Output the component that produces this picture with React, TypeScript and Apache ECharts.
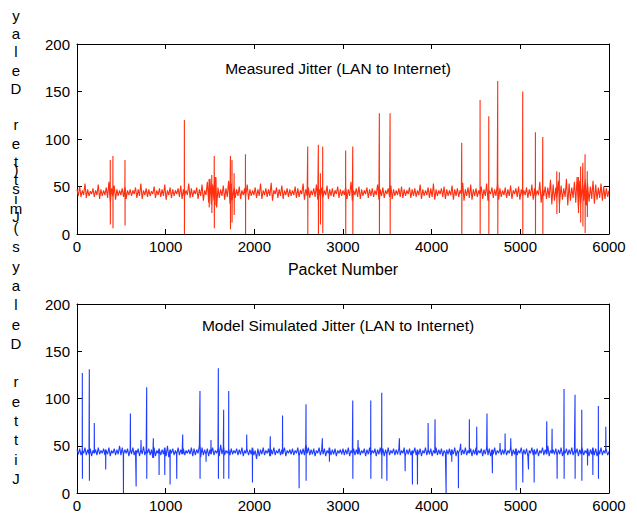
import React, { useEffect, useRef } from "react";
import * as echarts from "echarts";

// ---- data ----
const NOISE_STEP = 15; // packets between consecutive noise samples
const xTickValues = [0, 1000, 2000, 3000, 4000, 5000, 6000];
const yTickValues = [0, 50, 100, 150, 200];

// measured jitter, background noise (one value every 15 packets)
const redNoise = [
  47, 40, 50, 39, 46, 41, 53, 38, 47, 40, 45, 42, 48, 39, 46, 41, 52, 37, 47, 40,
  46, 41, 49, 38, 55, 34, 48, 39, 51, 36, 47, 40, 46, 41, 48, 39, 50, 37, 46, 41,
  47, 40, 46, 42, 49, 38, 47, 40, 53, 37, 46, 41, 48, 39, 47, 40, 45, 42, 50, 38,
  46, 41, 48, 39, 47, 40, 52, 36, 46, 41, 49, 38, 47, 40, 46, 42, 48, 39, 51, 37,
  47, 40, 46, 41, 53, 38, 48, 39, 46, 42, 49, 37, 47, 40, 52, 35, 46, 41, 55, 33,
  58, 31, 52, 35, 60, 28, 49, 38, 47, 40, 51, 36, 48, 39, 56, 32, 53, 35, 49, 38,
  47, 40, 50, 37, 46, 41, 48, 39, 52, 36, 47, 40, 46, 41, 49, 38, 47, 40, 53, 37,
  46, 41, 48, 39, 47, 40, 54, 35, 46, 42, 49, 38, 47, 40, 51, 37, 46, 41, 48, 39,
  47, 40, 46, 41, 50, 38, 48, 39, 46, 42, 53, 36, 47, 40, 49, 38, 46, 41, 48, 39,
  52, 36, 47, 40, 49, 38, 46, 41, 51, 37, 47, 40, 48, 39, 46, 42, 50, 38, 47, 40,
  46, 41, 49, 37, 47, 40, 55, 35, 46, 41, 48, 39, 50, 37, 47, 40, 46, 42, 49, 38,
  47, 40, 48, 39, 46, 41, 52, 36, 47, 40, 49, 38, 46, 42, 48, 39, 51, 37, 47, 40,
  46, 41, 48, 39, 50, 38, 47, 40, 46, 42, 49, 38, 47, 40, 48, 39, 46, 41, 52, 37,
  47, 40, 46, 41, 49, 38, 48, 39, 53, 36, 47, 40, 46, 42, 48, 39, 50, 37, 47, 40,
  46, 41, 51, 36, 47, 40, 48, 39, 46, 42, 54, 35, 47, 40, 49, 38, 52, 36, 47, 40,
  48, 39, 46, 41, 50, 37, 47, 40, 53, 35, 46, 42, 49, 38, 47, 40, 52, 36, 48, 39,
  46, 41, 49, 38, 47, 40, 51, 37, 46, 42, 48, 39, 50, 36, 47, 40, 46, 41, 49, 38,
  47, 40, 52, 36, 48, 39, 46, 41, 55, 33, 47, 40, 50, 37, 49, 38, 57, 31, 52, 35,
  49, 38, 56, 32, 51, 36, 48, 39, 58, 30, 53, 35, 49, 38, 55, 33, 60, 27, 56, 32,
  52, 35, 58, 30, 54, 34, 50, 37, 56, 32, 52, 36, 49, 38, 53, 35, 50, 37, 48, 39,
  46,
];

// model simulated jitter, background noise (one value every 15 packets)
const blueNoise = [
  46, 41, 47, 40, 45, 42, 48, 40, 46, 41, 47, 39, 45, 42, 46, 40, 48, 41, 45, 42,
  47, 40, 46, 41, 48, 39, 45, 42, 47, 40, 46, 41, 50, 40, 48, 41, 46, 42, 47, 39,
  46, 41, 48, 40, 45, 42, 47, 39, 46, 41, 49, 40, 45, 42, 47, 40, 46, 37, 48, 39,
  45, 42, 47, 40, 46, 41, 48, 39, 50, 38, 46, 42, 47, 40, 45, 41, 48, 40, 46, 41,
  47, 40, 45, 42, 46, 41, 48, 39, 47, 40, 46, 42, 50, 38, 48, 40, 46, 41, 47, 39,
  46, 41, 48, 40, 45, 42, 47, 39, 51, 41, 48, 40, 45, 42, 46, 40, 47, 41, 45, 42,
  47, 40, 46, 41, 48, 39, 45, 42, 47, 40, 46, 41, 48, 40, 45, 36, 47, 39, 46, 41,
  48, 40, 45, 42, 47, 39, 46, 41, 48, 40, 45, 42, 47, 40, 46, 41, 48, 39, 45, 42,
  46, 41, 47, 40, 45, 42, 48, 39, 46, 41, 47, 40, 51, 42, 48, 40, 46, 41, 47, 39,
  45, 42, 48, 40, 46, 41, 47, 39, 45, 42, 48, 40, 46, 41, 47, 39, 45, 42, 46, 41,
  47, 40, 46, 41, 48, 39, 45, 42, 47, 40, 46, 41, 48, 40, 45, 42, 47, 39, 46, 41,
  48, 40, 45, 42, 47, 39, 46, 41, 48, 40, 47, 39, 46, 41, 48, 40, 45, 42, 47, 40,
  46, 41, 47, 40, 45, 42, 48, 39, 46, 41, 47, 40, 45, 42, 48, 40, 46, 41, 47, 39,
  45, 42, 48, 40, 46, 41, 47, 39, 45, 42, 48, 40, 46, 41, 47, 39, 45, 42, 46, 41,
  47, 40, 46, 41, 48, 39, 45, 42, 47, 40, 46, 41, 48, 40, 45, 42, 47, 39, 46, 41,
  48, 40, 45, 42, 47, 39, 46, 41, 48, 40, 47, 39, 46, 41, 48, 40, 45, 42, 47, 40,
  46, 41, 47, 40, 45, 42, 48, 39, 46, 41, 47, 40, 45, 42, 48, 40, 46, 41, 47, 39,
  45, 42, 48, 40, 46, 41, 47, 39, 45, 42, 48, 40, 46, 41, 50, 39, 45, 42, 46, 41,
  47, 40, 46, 41, 48, 39, 45, 42, 47, 40, 46, 41, 48, 40, 45, 42, 47, 39, 46, 41,
  48, 40, 45, 42, 47, 39, 46, 41, 48, 40, 47, 39, 46, 41, 48, 40, 45, 42, 47, 40,
  44,
];

// spikes: packet number, peak value (null = none), dip value (null = none)
const redSpikePackets = [375, 405, 541, 1211, 1490, 1520, 1548, 1565, 1730, 1748, 1772, 1900, 2602, 2722, 2745, 2771, 3030, 3110, 3410, 3531, 4339, 4546, 4644, 4745, 5027, 5170, 5253, 5411, 5440, 5655, 5680, 5705, 5730, 5755];
const redSpikeHighs = [78, 82, 78, 120, 58, 62, 82, 56, 82, 78, 64, 84, 92, 94, 64, 92, 88, 92, 127, 127, 96, 141, 124, 161, 150, 107, 102, 66, 65, 60, 71, 75, 84, 66];
const redSpikeLows = [10, 6, 9, 0, 28, 22, 6, 30, 5, 12, 20, 0, 0, 0, 10, 1, 0, 0, 0, 0, 0, 0, 0, 0, 0, 0, 0, 21, 22, 22, 12, 8, 1, 18];

const blueSpikePackets = [60, 139, 195, 323, 523, 602, 666, 722, 786, 861, 925, 989, 1049, 1124, 1192, 1387, 1455, 1511, 1594, 1654, 1711, 1914, 1978, 2180, 2318, 2504, 2583, 2767, 2846, 3110, 3170, 3313, 3437, 3494, 3636, 3700, 3782, 3839, 3960, 4038, 4162, 4226, 4301, 4327, 4425, 4508, 4624, 4684, 4771, 4828, 4892, 4952, 5027, 5091, 5155, 5298, 5358, 5414, 5493, 5617, 5693, 5757, 5817, 5880, 5964];
const blueSpikeHighs = [127, 131, 74, null, null, 84, null, 56, 112, 58, null, null, null, null, 62, 108, null, 56, 132, 88, 108, 62, null, 60, 82, null, 94, 58, null, 98, 56, 98, 106, null, 58, null, null, null, 74, 78, null, null, null, 52, 78, 70, 84, null, 53, 63, 58, null, null, null, null, 76, 68, null, 110, 104, 88, null, null, 92, 70];
const blueSpikeLows = [15, 13, null, 25, 0, null, 7, null, 15, null, 19, 19, 9, 15, null, 15, 33, null, 15, 15, 15, null, 11, null, null, 5, 13, null, 33, 15, null, 15, 15, 13, null, 23, 9, 9, null, null, 0, 33, 5, null, null, null, null, 21, null, null, null, 3, 11, 25, 11, null, null, 15, 15, 15, 13, 29, 19, 15, null];

function buildSeries(
  noise: number[],
  packets: number[],
  highs: (number | null)[],
  lows: (number | null)[]
): [number, number][] {
  const pts: [number, number][] = noise.map((v, i) => [i * NOISE_STEP, v]);
  packets.forEach((p, k) => {
    const base = noise[Math.min(noise.length - 1, Math.round(p / NOISE_STEP))];
    pts.push([p - 1, base]);
    if (highs[k] != null) pts.push([p, highs[k] as number]);
    if (lows[k] != null) pts.push([p + 1, lows[k] as number]);
    pts.push([p + 2, base]);
  });
  pts.sort((a, b) => a[0] - b[0]);
  return pts;
}

const FONT = "'Liberation Sans', Arial, Helvetica, sans-serif";

export default function App() {
  const ref = useRef<HTMLDivElement>(null);

  useEffect(() => {
    if (!ref.current) return;
    const chart = echarts.init(ref.current, undefined, { renderer: "svg" });

    const redData = buildSeries(redNoise, redSpikePackets, redSpikeHighs, redSpikeLows);
    const blueData = buildSeries(blueNoise, blueSpikePackets, blueSpikeHighs, blueSpikeLows);

    const xMin = xTickValues[0];
    const xMax = xTickValues[xTickValues.length - 1];
    const xInt = xTickValues[1] - xTickValues[0];
    const yMin = yTickValues[0];
    const yMax = yTickValues[yTickValues.length - 1];
    const yInt = yTickValues[1] - yTickValues[0];

    const axisLine = { show: true, onZero: false, lineStyle: { color: "#000", width: 1 } };
    const axisTick = { show: true, inside: true, length: 5, lineStyle: { color: "#000", width: 1 } };
    const labelStyle = { color: "#000", fontSize: 15, fontFamily: FONT, formatter: (v: number) => String(v) };

    const mkX = (gridIndex: number, position: "top" | "bottom", labels: boolean, name?: string) => ({
      gridIndex,
      type: "value",
      position,
      min: xMin,
      max: xMax,
      interval: xInt,
      axisLine,
      axisTick,
      splitLine: { show: false },
      axisLabel: { show: labels, ...labelStyle, margin: 5 },
      name: name || "",
      nameLocation: "middle",
      nameGap: 27,
      nameTextStyle: { color: "#000", fontSize: 16, fontFamily: FONT },
    });
    const mkY = (gridIndex: number, position: "left" | "right", labels: boolean) => ({
      gridIndex,
      type: "value",
      position,
      min: yMin,
      max: yMax,
      interval: yInt,
      axisLine,
      axisTick,
      splitLine: { show: false },
      axisLabel: { show: labels, ...labelStyle, margin: 7 },
    });

    chart.setOption({
      animation: false,
      backgroundColor: "#fff",
      grid: [
        { left: 77, top: 44, width: 532, height: 190 },
        { left: 77, top: 304, width: 532, height: 189 },
      ],
      xAxis: [
        mkX(0, "bottom", true, "Packet Number"),
        mkX(0, "top", false),
        mkX(1, "bottom", true),
        mkX(1, "top", false),
      ],
      yAxis: [
        mkY(0, "left", true),
        mkY(0, "right", false),
        mkY(1, "left", true),
        mkY(1, "right", false),
      ],
      series: [
        {
          type: "line",
          xAxisIndex: 0,
          yAxisIndex: 0,
          data: redData,
          symbol: "none",
          lineStyle: { color: "#ff2f0f", width: 1.1 },
          z: 1,
        },
        {
          type: "line",
          xAxisIndex: 2,
          yAxisIndex: 2,
          data: blueData,
          symbol: "none",
          lineStyle: { color: "#1f3cff", width: 1.1 },
          z: 1,
        },
      ],
      graphic: [
        {
          type: "text",
          x: 338,
          y: 68,
          style: {
            text: "Measured Jitter (LAN to Internet)",
            fill: "#000",
            font: `15.5px ${FONT}`,
            textAlign: "center",
            textVerticalAlign: "middle",
          },
        },
        {
          type: "text",
          x: 338,
          y: 325,
          style: {
            text: "Model Simulated Jitter (LAN to Internet)",
            fill: "#000",
            font: `15.5px ${FONT}`,
            textAlign: "center",
            textVerticalAlign: "middle",
          },
        },
        {
          type: "text",
          x: 16,
          y: 6,
          style: {
            text: "y\na\nl\ne\nD\n \nr\ne\nt\nt\ni\nJ",
            fill: "#000",
            font: `15px ${FONT}`,
            lineHeight: 18.3,
            textAlign: "center",
          },
        },
        {
          type: "text",
          x: 16,
          y: 160,
          style: {
            text: ")\ns\nm\n(\ns\ny\na\nl\ne\nD\n \nr\ne\nt\nt\ni\nJ",
            fill: "#000",
            font: `15px ${FONT}`,
            lineHeight: 19.3,
            textAlign: "center",
          },
        },
      ],
    });

    return () => chart.dispose();
  }, []);

  return (
    <div
      ref={ref}
      style={{ position: "fixed", left: 0, top: 0, width: 637, height: 518, background: "#fff" }}
    />
  );
}
